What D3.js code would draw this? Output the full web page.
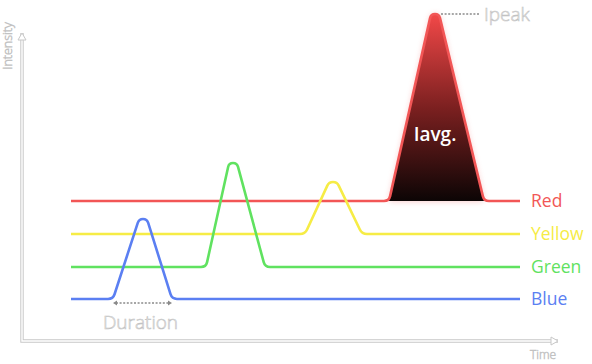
<!DOCTYPE html>
<html>
<head>
<meta charset="utf-8">
<script src="https://cdn.jsdelivr.net/npm/d3@7"></script>
<style>
  html, body { margin: 0; padding: 0; background: #fff; }
  svg { display: block; font-family: "Open Sans", "Noto Sans", sans-serif; }
  .ghost { fill: #fff; stroke: #c2c2c2; stroke-width: 0.6px; font-weight: 300; }
</style>
</head>
<body>
<svg id="chart" width="592" height="364"></svg>
<script>
// time / intensity values
const seriesNames = ['Red', 'Yellow', 'Green', 'Blue'];
const seriesColors = ['#f25656', '#f6ec45', '#60e260', '#5b7ff2'];
const baseline = [140, 107, 74, 42];
const peakValue = [327, 159, 178, 122];
const riseTime = [367, 283, 184, 91];
const peakTime = [413, 311, 211, 121];
const fallTime = [462, 340, 243, 150];
const lineStart = 49, lineEnd = 498;
const plateau = 4; // half width of the peak top

const svg = d3.select('#chart');
const x = d3.scaleLinear().domain([0, 536]).range([22, 558]);
const y = d3.scaleLinear().domain([0, 308]).range([341, 33]);

// straight segments with rounded corners
function roundedCurve(radius) {
  return function(context) {
    let pts;
    return {
      areaStart() {}, areaEnd() {},
      lineStart() { pts = []; },
      point(px, py) { pts.push([+px, +py]); },
      lineEnd() {
        context.moveTo(pts[0][0], pts[0][1]);
        for (let i = 1; i < pts.length - 1; i++) {
          const [ax, ay] = pts[i - 1], [cx, cy] = pts[i], [bx, by] = pts[i + 1];
          const d0 = Math.hypot(cx - ax, cy - ay), d1 = Math.hypot(bx - cx, by - cy);
          const r = Math.min(radius, d0 / 2, d1 / 2);
          context.lineTo(cx - (cx - ax) / d0 * r, cy - (cy - ay) / d0 * r);
          context.quadraticCurveTo(cx, cy, cx + (bx - cx) / d1 * r, cy + (by - cy) / d1 * r);
        }
        const l = pts[pts.length - 1];
        context.lineTo(l[0], l[1]);
      }
    };
  };
}

const line = d3.line().x(d => x(d[0])).y(d => y(d[1])).curve(roundedCurve(5));

function peakPoints(i) {
  return [
    [riseTime[i], baseline[i]],
    [peakTime[i] - plateau, peakValue[i]],
    [peakTime[i] + plateau, peakValue[i]],
    [fallTime[i], baseline[i]]
  ];
}

// gradient and soft glow for the red pulse
const defs = svg.append('defs');
const grad = defs.append('linearGradient').attr('id', 'pulseFill')
  .attr('x1', 0).attr('y1', 0).attr('x2', 0).attr('y2', 1);
grad.append('stop').attr('offset', '0%').attr('stop-color', '#f24848');
grad.append('stop').attr('offset', '50%').attr('stop-color', '#7c2020');
grad.append('stop').attr('offset', '100%').attr('stop-color', '#0c0505');
defs.append('filter').attr('id', 'glow').attr('x', '-30%').attr('y', '-30%')
  .attr('width', '160%').attr('height', '160%')
  .append('feGaussianBlur').attr('stdDeviation', 3);

// axes: white line with grey outline
const axisPath = `M${x(0)},${y.range()[1]}V${y(0)}H${x.range()[1]}`;
svg.append('path').attr('d', axisPath).attr('fill', 'none')
  .attr('stroke', '#c8c8c8').attr('stroke-width', 3.4);
svg.append('path').attr('d', axisPath).attr('fill', 'none')
  .attr('stroke', '#fff').attr('stroke-width', 1.4);
const ax0 = x(0), ay0 = y.range()[1], bx0 = x.range()[1], by0 = y(0);
svg.append('path')
  .attr('d', `M${ax0},${ay0}L${ax0 - 4},${ay0 + 7}L${ax0 + 4},${ay0 + 7}Z`)
  .attr('fill', '#fff').attr('stroke', '#c8c8c8').attr('stroke-width', 1);
svg.append('path')
  .attr('d', `M${bx0},${by0}L${bx0 - 7},${by0 - 4}L${bx0 - 7},${by0 + 4}Z`)
  .attr('fill', '#fff').attr('stroke', '#c8c8c8').attr('stroke-width', 1);

svg.append('text').attr('class', 'ghost')
  .attr('transform', `translate(12,${ay0 + 13}) rotate(-90)`)
  .attr('text-anchor', 'middle').attr('font-size', 12.5).text('Intensity');
svg.append('text').attr('class', 'ghost')
  .attr('x', bx0 - 15).attr('y', by0 + 14)
  .attr('dy', '0.36em')
  .attr('text-anchor', 'middle').attr('font-size', 12).text('Time');

// red pulse glow and fill
svg.append('path')
  .attr('d', line(peakPoints(0)) + 'Z')
  .attr('fill', '#f25656').attr('opacity', 0.35).attr('filter', 'url(#glow)');
svg.append('path')
  .attr('d', line(peakPoints(0)) + 'Z')
  .attr('fill', 'url(#pulseFill)');

// series lines
seriesNames.forEach((name, i) => {
  const pts = [[lineStart, baseline[i]], ...peakPoints(i), [lineEnd, baseline[i]]];
  svg.append('path')
    .attr('d', line(pts))
    .attr('fill', 'none')
    .attr('stroke', seriesColors[i])
    .attr('stroke-width', 2.6)
    .attr('stroke-linejoin', 'round');
  svg.append('text')
    .attr('x', x(lineEnd) + 11)
    .attr('y', y(baseline[i]))
    .attr('dy', '0.36em')
    .attr('font-size', 17.5)
    .attr('fill', seriesColors[i])
    .text(name);
});

// Iavg label inside the pulse
svg.append('text')
  .attr('x', x(peakTime[0]))
  .attr('y', y(baseline[0] + (peakValue[0] - baseline[0]) * 0.32))
  .attr('text-anchor', 'middle')
  .attr('font-size', 19).attr('font-weight', 600)
  .attr('fill', '#fff')
  .text('Iavg.');

// Ipeak marker
const ipY = y(peakValue[0]);
svg.append('line')
  .attr('x1', x(peakTime[0] + 6)).attr('x2', x(peakTime[0] + 45))
  .attr('y1', ipY).attr('y2', ipY)
  .attr('stroke', '#8a8a8a').attr('stroke-width', 1.4).attr('stroke-dasharray', '2,1.6');
svg.append('text').attr('class', 'ghost')
  .attr('x', x(peakTime[0] + 49)).attr('y', ipY).attr('dy', '0.36em')
  .attr('font-size', 19).text('Ipeak');

// Duration marker under the blue pulse
const dY = y(baseline[3]) + 4;
const dx1 = x(riseTime[3]), dx2 = x(fallTime[3]);
svg.append('line')
  .attr('x1', dx1 + 3).attr('x2', dx2 - 3).attr('y1', dY).attr('y2', dY)
  .attr('stroke', '#8a8a8a').attr('stroke-width', 1.4).attr('stroke-dasharray', '2,1.6');
svg.append('path')
  .attr('d', `M${dx1},${dY}l4,-2.5v5Z M${dx2},${dY}l-4,-2.5v5Z`)
  .attr('fill', '#8a8a8a');
svg.append('text').attr('class', 'ghost')
  .attr('x', (dx1 + dx2) / 2 - 2).attr('y', dY + 19)
  .attr('dy', '0.36em').attr('text-anchor', 'middle')
  .attr('font-size', 19).text('Duration');
</script>
</body>
</html>
